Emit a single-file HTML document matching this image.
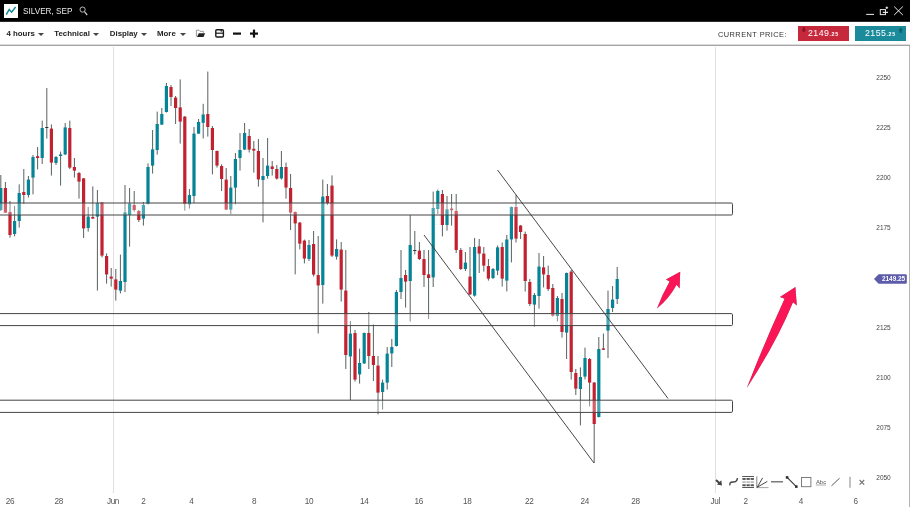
<!DOCTYPE html>
<html><head><meta charset="utf-8"><title>SILVER, SEP</title>
<style>
html,body{margin:0;padding:0;background:#fff;}
body{width:910px;height:507px;overflow:hidden;position:relative;font-family:"Liberation Sans",sans-serif;}
#top{position:absolute;left:0;top:0;width:910px;height:21px;background:#000;border-bottom:1px solid #2c2c2c;}
#logo{position:absolute;left:4px;top:4px;width:14px;height:14px;background:#fff;}
#title{position:absolute;left:23px;top:7px;font-size:8.2px;line-height:10px;color:#e8e8e8;letter-spacing:0px;white-space:nowrap;}
#bar{position:absolute;left:0;top:22px;width:910px;height:22px;background:#fff;border-bottom:1px solid #dcdcdc;box-shadow:0 1px 0 #a4a4a4;}
.mi{position:absolute;top:6.9px;font-size:7.85px;line-height:10px;font-weight:bold;color:#222;white-space:nowrap;}
.tri{position:absolute;top:10.5px;width:0;height:0;border-left:3px solid transparent;border-right:3px solid transparent;border-top:3.2px solid #444;}
#cp{position:absolute;left:718px;top:7.5px;font-size:7.4px;line-height:10px;color:#333;letter-spacing:0.45px;white-space:nowrap;}
.pb{position:absolute;top:4px;height:14.5px;width:51px;color:#fff;font-size:8.8px;line-height:14.5px;text-align:center;letter-spacing:0.45px;white-space:nowrap;}
.pb small{font-size:5.4px;font-weight:bold;letter-spacing:0.7px;}
#sell{left:798px;background:#c6283c;}
#buy{left:855px;background:#1b8b9b;}
#chart{position:absolute;left:0;top:0;}
.ax{font-size:6.5px;fill:#444;font-family:"Liberation Sans",sans-serif;}
.dx{font-size:8.2px;letter-spacing:-0.35px;fill:#555;font-family:"Liberation Sans",sans-serif;}
</style></head><body>
<svg id="chart" width="910" height="507" viewBox="0 0 910 507">
<!-- grid -->
<line x1="113.5" x2="113.5" y1="47" y2="493" stroke="#e0e0e0" stroke-width="1"/>
<line x1="715.5" x2="715.5" y1="47" y2="493" stroke="#e0e0e0" stroke-width="1"/>
<line x1="909.5" x2="909.5" y1="46" y2="507" stroke="#b4b4b4" stroke-width="1"/>
<!-- candles -->
<g shape-rendering="auto">
<line x1="0.8" x2="0.8" y1="175" y2="211" stroke="#596060" stroke-width="1"/>
<rect x="-0.8" y="188" width="3.2" height="22.0" fill="#048496"/>
<line x1="5.4" x2="5.4" y1="182" y2="213" stroke="#596060" stroke-width="1"/>
<rect x="3.8" y="188" width="3.2" height="24.6" fill="#c2212f"/>
<line x1="10.0" x2="10.0" y1="201" y2="237.6" stroke="#596060" stroke-width="1"/>
<rect x="8.4" y="212" width="3.2" height="23.0" fill="#c2212f"/>
<line x1="14.6" x2="14.6" y1="206" y2="236.4" stroke="#596060" stroke-width="1"/>
<rect x="13.0" y="221" width="3.2" height="13.0" fill="#048496"/>
<line x1="19.2" x2="19.2" y1="184.4" y2="227.6" stroke="#596060" stroke-width="1"/>
<rect x="17.6" y="193" width="3.2" height="28.0" fill="#048496"/>
<line x1="23.8" x2="23.8" y1="169" y2="204" stroke="#596060" stroke-width="1"/>
<rect x="22.2" y="192" width="3.2" height="3.0" fill="#c2212f"/>
<line x1="28.4" x2="28.4" y1="176" y2="197.6" stroke="#596060" stroke-width="1"/>
<rect x="26.8" y="179.6" width="3.2" height="15.4" fill="#048496"/>
<line x1="33.0" x2="33.0" y1="155" y2="194.4" stroke="#596060" stroke-width="1"/>
<rect x="31.4" y="157" width="3.2" height="20.6" fill="#048496"/>
<line x1="37.6" x2="37.6" y1="147" y2="169.4" stroke="#596060" stroke-width="1"/>
<rect x="36.0" y="156.2" width="3.2" height="1.8" fill="#c2212f"/>
<line x1="42.2" x2="42.2" y1="120.6" y2="164" stroke="#596060" stroke-width="1"/>
<rect x="40.6" y="128" width="3.2" height="30.0" fill="#048496"/>
<line x1="46.8" x2="46.8" y1="88" y2="138.6" stroke="#596060" stroke-width="1"/>
<rect x="45.2" y="127" width="3.2" height="1.0" fill="#333"/>
<line x1="51.4" x2="51.4" y1="124.4" y2="175.6" stroke="#596060" stroke-width="1"/>
<rect x="49.8" y="128.6" width="3.2" height="34.0" fill="#c2212f"/>
<line x1="56.0" x2="56.0" y1="156" y2="165" stroke="#596060" stroke-width="1"/>
<rect x="54.4" y="157" width="3.2" height="6.0" fill="#048496"/>
<line x1="60.6" x2="60.6" y1="151.6" y2="185.6" stroke="#596060" stroke-width="1"/>
<rect x="59.0" y="154.4" width="3.2" height="1.6" fill="#048496"/>
<line x1="65.2" x2="65.2" y1="123" y2="155" stroke="#596060" stroke-width="1"/>
<rect x="63.6" y="127.4" width="3.2" height="27.0" fill="#048496"/>
<line x1="69.8" x2="69.8" y1="120.6" y2="169" stroke="#596060" stroke-width="1"/>
<rect x="68.2" y="128" width="3.2" height="39.6" fill="#c2212f"/>
<line x1="74.4" x2="74.4" y1="158" y2="177.6" stroke="#596060" stroke-width="1"/>
<rect x="72.8" y="167" width="3.2" height="3.6" fill="#c2212f"/>
<line x1="79.0" x2="79.0" y1="172" y2="198.6" stroke="#596060" stroke-width="1"/>
<rect x="77.4" y="173" width="3.2" height="8.6" fill="#c2212f"/>
<line x1="83.6" x2="83.6" y1="178" y2="238" stroke="#596060" stroke-width="1"/>
<rect x="82.0" y="178.4" width="3.2" height="50.0" fill="#c2212f"/>
<line x1="88.2" x2="88.2" y1="207" y2="231.6" stroke="#596060" stroke-width="1"/>
<rect x="86.6" y="216.6" width="3.2" height="11.4" fill="#048496"/>
<line x1="92.8" x2="92.8" y1="186.4" y2="219" stroke="#596060" stroke-width="1"/>
<rect x="91.2" y="217" width="3.2" height="1.6" fill="#c2212f"/>
<line x1="97.4" x2="97.4" y1="190" y2="290.6" stroke="#596060" stroke-width="1"/>
<rect x="95.8" y="203" width="3.2" height="13.6" fill="#048496"/>
<line x1="102.0" x2="102.0" y1="202" y2="257.4" stroke="#596060" stroke-width="1"/>
<rect x="100.4" y="202.6" width="3.2" height="53.0" fill="#c2212f"/>
<line x1="106.6" x2="106.6" y1="253.4" y2="283.6" stroke="#596060" stroke-width="1"/>
<rect x="105.0" y="256" width="3.2" height="18.4" fill="#c2212f"/>
<line x1="111.2" x2="111.2" y1="268" y2="286.6" stroke="#596060" stroke-width="1"/>
<rect x="109.6" y="276.6" width="3.2" height="2.0" fill="#c2212f"/>
<line x1="115.8" x2="115.8" y1="269" y2="300.6" stroke="#596060" stroke-width="1"/>
<rect x="114.2" y="279.4" width="3.2" height="10.2" fill="#c2212f"/>
<line x1="120.4" x2="120.4" y1="254.6" y2="293.4" stroke="#596060" stroke-width="1"/>
<rect x="118.8" y="281" width="3.2" height="9.6" fill="#048496"/>
<line x1="125.0" x2="125.0" y1="185" y2="292" stroke="#596060" stroke-width="1"/>
<rect x="123.4" y="212.4" width="3.2" height="69.6" fill="#048496"/>
<line x1="129.6" x2="129.6" y1="188" y2="246.6" stroke="#596060" stroke-width="1"/>
<rect x="128.0" y="203.6" width="3.2" height="11.4" fill="#048496"/>
<line x1="134.2" x2="134.2" y1="191" y2="211.6" stroke="#596060" stroke-width="1"/>
<rect x="132.6" y="205" width="3.2" height="5.0" fill="#c2212f"/>
<line x1="138.8" x2="138.8" y1="210" y2="222" stroke="#596060" stroke-width="1"/>
<rect x="137.2" y="211" width="3.2" height="9.0" fill="#c2212f"/>
<line x1="143.4" x2="143.4" y1="202" y2="225.6" stroke="#596060" stroke-width="1"/>
<rect x="141.8" y="205" width="3.2" height="13.6" fill="#048496"/>
<line x1="148.0" x2="148.0" y1="163.4" y2="204.5" stroke="#596060" stroke-width="1"/>
<rect x="146.4" y="167" width="3.2" height="37.0" fill="#048496"/>
<line x1="152.6" x2="152.6" y1="130" y2="173.6" stroke="#596060" stroke-width="1"/>
<rect x="151.0" y="149.4" width="3.2" height="16.2" fill="#048496"/>
<line x1="157.2" x2="157.2" y1="111.6" y2="154.6" stroke="#596060" stroke-width="1"/>
<rect x="155.6" y="124" width="3.2" height="26.0" fill="#048496"/>
<line x1="161.8" x2="161.8" y1="108" y2="125" stroke="#596060" stroke-width="1"/>
<rect x="160.2" y="114" width="3.2" height="10.6" fill="#048496"/>
<line x1="166.4" x2="166.4" y1="83" y2="112.5" stroke="#596060" stroke-width="1"/>
<rect x="164.8" y="86" width="3.2" height="26.0" fill="#048496"/>
<line x1="171.0" x2="171.0" y1="85" y2="106" stroke="#596060" stroke-width="1"/>
<rect x="169.4" y="87" width="3.2" height="10.0" fill="#c2212f"/>
<line x1="175.6" x2="175.6" y1="96" y2="124" stroke="#596060" stroke-width="1"/>
<rect x="174.0" y="97.6" width="3.2" height="10.4" fill="#c2212f"/>
<line x1="180.2" x2="180.2" y1="79.4" y2="143.6" stroke="#596060" stroke-width="1"/>
<rect x="178.6" y="107.4" width="3.2" height="14.2" fill="#c2212f"/>
<line x1="184.8" x2="184.8" y1="116" y2="210.6" stroke="#596060" stroke-width="1"/>
<rect x="183.2" y="116.6" width="3.2" height="87.4" fill="#c2212f"/>
<line x1="189.4" x2="189.4" y1="189" y2="208.6" stroke="#596060" stroke-width="1"/>
<rect x="187.8" y="195" width="3.2" height="9.4" fill="#048496"/>
<line x1="194.0" x2="194.0" y1="127" y2="203" stroke="#596060" stroke-width="1"/>
<rect x="192.4" y="133.6" width="3.2" height="62.4" fill="#048496"/>
<line x1="198.6" x2="198.6" y1="119" y2="134" stroke="#596060" stroke-width="1"/>
<rect x="197.0" y="122" width="3.2" height="11.6" fill="#048496"/>
<line x1="203.2" x2="203.2" y1="103.8" y2="138.5" stroke="#596060" stroke-width="1"/>
<rect x="201.6" y="114.5" width="3.2" height="8.3" fill="#048496"/>
<line x1="207.8" x2="207.8" y1="71.6" y2="136.6" stroke="#596060" stroke-width="1"/>
<rect x="206.2" y="114" width="3.2" height="13.0" fill="#c2212f"/>
<line x1="212.4" x2="212.4" y1="126" y2="174.4" stroke="#596060" stroke-width="1"/>
<rect x="210.8" y="128" width="3.2" height="22.0" fill="#c2212f"/>
<line x1="217.0" x2="217.0" y1="150.5" y2="167.6" stroke="#596060" stroke-width="1"/>
<rect x="215.4" y="151" width="3.2" height="14.6" fill="#c2212f"/>
<line x1="221.6" x2="221.6" y1="164.4" y2="191" stroke="#596060" stroke-width="1"/>
<rect x="220.0" y="166" width="3.2" height="13.0" fill="#c2212f"/>
<line x1="226.2" x2="226.2" y1="168" y2="210" stroke="#596060" stroke-width="1"/>
<rect x="224.6" y="179.6" width="3.2" height="30.0" fill="#c2212f"/>
<line x1="230.8" x2="230.8" y1="176" y2="214" stroke="#596060" stroke-width="1"/>
<rect x="229.2" y="187.6" width="3.2" height="22.0" fill="#048496"/>
<line x1="235.4" x2="235.4" y1="153" y2="204.4" stroke="#596060" stroke-width="1"/>
<rect x="233.8" y="159" width="3.2" height="28.6" fill="#048496"/>
<line x1="240.0" x2="240.0" y1="133" y2="170.6" stroke="#596060" stroke-width="1"/>
<rect x="238.4" y="150" width="3.2" height="8.0" fill="#048496"/>
<line x1="244.6" x2="244.6" y1="123" y2="150" stroke="#596060" stroke-width="1"/>
<rect x="243.0" y="133" width="3.2" height="16.6" fill="#048496"/>
<line x1="249.2" x2="249.2" y1="129" y2="152.5" stroke="#596060" stroke-width="1"/>
<rect x="247.6" y="136" width="3.2" height="13.6" fill="#c2212f"/>
<line x1="253.8" x2="253.8" y1="141" y2="172.6" stroke="#596060" stroke-width="1"/>
<rect x="252.2" y="148.8" width="3.2" height="1.8" fill="#c2212f"/>
<line x1="258.4" x2="258.4" y1="139" y2="186.6" stroke="#596060" stroke-width="1"/>
<rect x="256.8" y="151" width="3.2" height="28.4" fill="#c2212f"/>
<line x1="263.0" x2="263.0" y1="158" y2="222.4" stroke="#596060" stroke-width="1"/>
<rect x="261.4" y="176" width="3.2" height="4.0" fill="#048496"/>
<line x1="267.6" x2="267.6" y1="138" y2="178.6" stroke="#596060" stroke-width="1"/>
<rect x="266.0" y="165.6" width="3.2" height="10.4" fill="#048496"/>
<line x1="272.2" x2="272.2" y1="161" y2="175.6" stroke="#596060" stroke-width="1"/>
<rect x="270.6" y="166.4" width="3.2" height="2.6" fill="#c2212f"/>
<line x1="276.8" x2="276.8" y1="165" y2="179.6" stroke="#596060" stroke-width="1"/>
<rect x="275.2" y="169" width="3.2" height="9.6" fill="#c2212f"/>
<line x1="281.4" x2="281.4" y1="151" y2="179.6" stroke="#596060" stroke-width="1"/>
<rect x="279.8" y="167" width="3.2" height="11.4" fill="#048496"/>
<line x1="286.0" x2="286.0" y1="162.6" y2="198.6" stroke="#596060" stroke-width="1"/>
<rect x="284.4" y="167" width="3.2" height="20.6" fill="#c2212f"/>
<line x1="290.6" x2="290.6" y1="174" y2="230" stroke="#596060" stroke-width="1"/>
<rect x="289.0" y="188" width="3.2" height="24.6" fill="#c2212f"/>
<line x1="295.2" x2="295.2" y1="211.5" y2="274.4" stroke="#596060" stroke-width="1"/>
<rect x="293.6" y="212" width="3.2" height="11.4" fill="#c2212f"/>
<line x1="299.8" x2="299.8" y1="222" y2="249.4" stroke="#596060" stroke-width="1"/>
<rect x="298.2" y="222.6" width="3.2" height="21.0" fill="#c2212f"/>
<line x1="304.4" x2="304.4" y1="239.6" y2="263.4" stroke="#596060" stroke-width="1"/>
<rect x="302.8" y="240.6" width="3.2" height="18.0" fill="#c2212f"/>
<line x1="309.0" x2="309.0" y1="240" y2="261" stroke="#596060" stroke-width="1"/>
<rect x="307.4" y="245" width="3.2" height="14.0" fill="#048496"/>
<line x1="313.6" x2="313.6" y1="231" y2="276.6" stroke="#596060" stroke-width="1"/>
<rect x="312.0" y="244" width="3.2" height="30.6" fill="#c2212f"/>
<line x1="318.2" x2="318.2" y1="236" y2="333.5" stroke="#596060" stroke-width="1"/>
<rect x="316.6" y="275" width="3.2" height="10.4" fill="#c2212f"/>
<line x1="322.8" x2="322.8" y1="179.6" y2="303.6" stroke="#596060" stroke-width="1"/>
<rect x="321.2" y="196.6" width="3.2" height="88.4" fill="#048496"/>
<line x1="327.4" x2="327.4" y1="184" y2="205" stroke="#596060" stroke-width="1"/>
<rect x="325.8" y="196" width="3.2" height="7.0" fill="#c2212f"/>
<line x1="332.0" x2="332.0" y1="175.4" y2="257" stroke="#596060" stroke-width="1"/>
<rect x="330.4" y="185.6" width="3.2" height="70.0" fill="#c2212f"/>
<line x1="336.6" x2="336.6" y1="239.4" y2="259.6" stroke="#596060" stroke-width="1"/>
<rect x="335.0" y="249" width="3.2" height="7.6" fill="#048496"/>
<line x1="341.2" x2="341.2" y1="242" y2="301.6" stroke="#596060" stroke-width="1"/>
<rect x="339.6" y="249.6" width="3.2" height="40.0" fill="#c2212f"/>
<line x1="345.8" x2="345.8" y1="250" y2="369" stroke="#596060" stroke-width="1"/>
<rect x="344.2" y="290.6" width="3.2" height="64.4" fill="#c2212f"/>
<line x1="350.4" x2="350.4" y1="321" y2="400" stroke="#596060" stroke-width="1"/>
<rect x="348.8" y="333.6" width="3.2" height="22.8" fill="#048496"/>
<line x1="355.0" x2="355.0" y1="330" y2="381.6" stroke="#596060" stroke-width="1"/>
<rect x="353.4" y="333" width="3.2" height="46.6" fill="#c2212f"/>
<line x1="359.6" x2="359.6" y1="348.6" y2="383.6" stroke="#596060" stroke-width="1"/>
<rect x="358.0" y="363" width="3.2" height="11.4" fill="#048496"/>
<line x1="364.2" x2="364.2" y1="332.5" y2="364" stroke="#596060" stroke-width="1"/>
<rect x="362.6" y="333" width="3.2" height="30.4" fill="#048496"/>
<line x1="368.8" x2="368.8" y1="312" y2="369" stroke="#596060" stroke-width="1"/>
<rect x="367.2" y="333" width="3.2" height="23.0" fill="#c2212f"/>
<line x1="373.4" x2="373.4" y1="324.4" y2="381" stroke="#596060" stroke-width="1"/>
<rect x="371.8" y="356" width="3.2" height="9.0" fill="#c2212f"/>
<line x1="378.0" x2="378.0" y1="356" y2="414.4" stroke="#596060" stroke-width="1"/>
<rect x="376.4" y="365.6" width="3.2" height="27.0" fill="#c2212f"/>
<line x1="382.6" x2="382.6" y1="379.6" y2="409.6" stroke="#596060" stroke-width="1"/>
<rect x="381.0" y="382.6" width="3.2" height="9.4" fill="#048496"/>
<line x1="387.2" x2="387.2" y1="347" y2="389.6" stroke="#596060" stroke-width="1"/>
<rect x="385.6" y="353.6" width="3.2" height="29.0" fill="#048496"/>
<line x1="391.8" x2="391.8" y1="339" y2="367" stroke="#596060" stroke-width="1"/>
<rect x="390.2" y="347" width="3.2" height="6.4" fill="#048496"/>
<line x1="396.4" x2="396.4" y1="290" y2="346.5" stroke="#596060" stroke-width="1"/>
<rect x="394.8" y="292" width="3.2" height="54.0" fill="#048496"/>
<line x1="401.0" x2="401.0" y1="250" y2="299" stroke="#596060" stroke-width="1"/>
<rect x="399.4" y="278" width="3.2" height="14.0" fill="#048496"/>
<line x1="405.6" x2="405.6" y1="270" y2="307.6" stroke="#596060" stroke-width="1"/>
<rect x="404.0" y="275" width="3.2" height="6.6" fill="#c2212f"/>
<line x1="410.2" x2="410.2" y1="215" y2="321.5" stroke="#596060" stroke-width="1"/>
<rect x="408.6" y="245" width="3.2" height="36.0" fill="#048496"/>
<line x1="414.8" x2="414.8" y1="231" y2="254.4" stroke="#596060" stroke-width="1"/>
<rect x="413.2" y="250" width="3.2" height="1.0" fill="#333"/>
<line x1="419.4" x2="419.4" y1="242" y2="260" stroke="#596060" stroke-width="1"/>
<rect x="417.8" y="250.6" width="3.2" height="8.4" fill="#c2212f"/>
<line x1="424.0" x2="424.0" y1="250" y2="287" stroke="#596060" stroke-width="1"/>
<rect x="422.4" y="259" width="3.2" height="16.0" fill="#c2212f"/>
<line x1="428.6" x2="428.6" y1="250" y2="319" stroke="#596060" stroke-width="1"/>
<rect x="427.0" y="274.4" width="3.2" height="3.6" fill="#c2212f"/>
<line x1="433.2" x2="433.2" y1="191.6" y2="287" stroke="#596060" stroke-width="1"/>
<rect x="431.6" y="208" width="3.2" height="69.4" fill="#048496"/>
<line x1="437.8" x2="437.8" y1="189.6" y2="214" stroke="#596060" stroke-width="1"/>
<rect x="436.2" y="191" width="3.2" height="18.0" fill="#048496"/>
<line x1="442.4" x2="442.4" y1="190" y2="236.4" stroke="#596060" stroke-width="1"/>
<rect x="440.8" y="194" width="3.2" height="31.0" fill="#c2212f"/>
<line x1="447.0" x2="447.0" y1="196" y2="230.6" stroke="#596060" stroke-width="1"/>
<rect x="445.4" y="209.4" width="3.2" height="15.6" fill="#048496"/>
<line x1="451.6" x2="451.6" y1="194" y2="225.6" stroke="#596060" stroke-width="1"/>
<rect x="450.0" y="208.6" width="3.2" height="1.6" fill="#c2212f"/>
<line x1="456.2" x2="456.2" y1="194" y2="253" stroke="#596060" stroke-width="1"/>
<rect x="454.6" y="211" width="3.2" height="39.0" fill="#c2212f"/>
<line x1="460.8" x2="460.8" y1="248" y2="270" stroke="#596060" stroke-width="1"/>
<rect x="459.2" y="250" width="3.2" height="19.0" fill="#c2212f"/>
<line x1="465.4" x2="465.4" y1="252" y2="271" stroke="#596060" stroke-width="1"/>
<rect x="463.8" y="262.6" width="3.2" height="6.4" fill="#048496"/>
<line x1="470.0" x2="470.0" y1="247" y2="295" stroke="#596060" stroke-width="1"/>
<rect x="468.4" y="276.6" width="3.2" height="17.8" fill="#c2212f"/>
<line x1="474.6" x2="474.6" y1="238" y2="296.6" stroke="#596060" stroke-width="1"/>
<rect x="473.0" y="247" width="3.2" height="48.6" fill="#048496"/>
<line x1="479.2" x2="479.2" y1="239" y2="273" stroke="#596060" stroke-width="1"/>
<rect x="477.6" y="246.4" width="3.2" height="7.2" fill="#c2212f"/>
<line x1="483.8" x2="483.8" y1="247" y2="271.6" stroke="#596060" stroke-width="1"/>
<rect x="482.2" y="253.6" width="3.2" height="12.0" fill="#c2212f"/>
<line x1="488.4" x2="488.4" y1="259" y2="280.6" stroke="#596060" stroke-width="1"/>
<rect x="486.8" y="266" width="3.2" height="12.6" fill="#c2212f"/>
<line x1="493.0" x2="493.0" y1="268" y2="279" stroke="#596060" stroke-width="1"/>
<rect x="491.4" y="269" width="3.2" height="9.0" fill="#048496"/>
<line x1="497.6" x2="497.6" y1="245.5" y2="275" stroke="#596060" stroke-width="1"/>
<rect x="496.0" y="247.4" width="3.2" height="23.2" fill="#048496"/>
<line x1="502.2" x2="502.2" y1="242.5" y2="286.6" stroke="#596060" stroke-width="1"/>
<rect x="500.6" y="247" width="3.2" height="31.6" fill="#c2212f"/>
<line x1="506.8" x2="506.8" y1="235" y2="291.4" stroke="#596060" stroke-width="1"/>
<rect x="505.2" y="239.5" width="3.2" height="41.1" fill="#048496"/>
<line x1="511.4" x2="511.4" y1="206.5" y2="262.4" stroke="#596060" stroke-width="1"/>
<rect x="509.8" y="207" width="3.2" height="32.4" fill="#048496"/>
<line x1="516.0" x2="516.0" y1="195" y2="242.5" stroke="#596060" stroke-width="1"/>
<rect x="514.4" y="207" width="3.2" height="31.6" fill="#c2212f"/>
<line x1="520.6" x2="520.6" y1="225" y2="239" stroke="#596060" stroke-width="1"/>
<rect x="519.0" y="225.6" width="3.2" height="6.4" fill="#c2212f"/>
<line x1="525.2" x2="525.2" y1="231.6" y2="291.6" stroke="#596060" stroke-width="1"/>
<rect x="523.6" y="234" width="3.2" height="47.0" fill="#c2212f"/>
<line x1="529.8" x2="529.8" y1="279" y2="306" stroke="#596060" stroke-width="1"/>
<rect x="528.2" y="282" width="3.2" height="22.0" fill="#c2212f"/>
<line x1="534.4" x2="534.4" y1="293" y2="326.6" stroke="#596060" stroke-width="1"/>
<rect x="532.8" y="295" width="3.2" height="9.6" fill="#048496"/>
<line x1="539.0" x2="539.0" y1="253" y2="308.6" stroke="#596060" stroke-width="1"/>
<rect x="537.4" y="266.6" width="3.2" height="29.4" fill="#048496"/>
<line x1="543.6" x2="543.6" y1="256" y2="287.4" stroke="#596060" stroke-width="1"/>
<rect x="542.0" y="267.4" width="3.2" height="7.0" fill="#c2212f"/>
<line x1="548.2" x2="548.2" y1="265.6" y2="291" stroke="#596060" stroke-width="1"/>
<rect x="546.6" y="275" width="3.2" height="14.0" fill="#c2212f"/>
<line x1="552.8" x2="552.8" y1="284" y2="316.6" stroke="#596060" stroke-width="1"/>
<rect x="551.2" y="288" width="3.2" height="27.6" fill="#c2212f"/>
<line x1="557.4" x2="557.4" y1="296" y2="321.4" stroke="#596060" stroke-width="1"/>
<rect x="555.8" y="298" width="3.2" height="18.0" fill="#048496"/>
<line x1="562.0" x2="562.0" y1="293" y2="337.6" stroke="#596060" stroke-width="1"/>
<rect x="560.4" y="299" width="3.2" height="33.0" fill="#c2212f"/>
<line x1="566.6" x2="566.6" y1="272.5" y2="359" stroke="#596060" stroke-width="1"/>
<rect x="565.0" y="273" width="3.2" height="59.6" fill="#048496"/>
<line x1="571.2" x2="571.2" y1="270" y2="379.6" stroke="#596060" stroke-width="1"/>
<rect x="569.6" y="271.6" width="3.2" height="100.4" fill="#c2212f"/>
<line x1="575.8" x2="575.8" y1="369" y2="395" stroke="#596060" stroke-width="1"/>
<rect x="574.2" y="373" width="3.2" height="15.6" fill="#c2212f"/>
<line x1="580.4" x2="580.4" y1="367.4" y2="425.4" stroke="#596060" stroke-width="1"/>
<rect x="578.8" y="377" width="3.2" height="12.0" fill="#048496"/>
<line x1="585.0" x2="585.0" y1="347.6" y2="379.4" stroke="#596060" stroke-width="1"/>
<rect x="583.4" y="358" width="3.2" height="18.6" fill="#048496"/>
<line x1="589.6" x2="589.6" y1="358" y2="406.4" stroke="#596060" stroke-width="1"/>
<rect x="588.0" y="359" width="3.2" height="23.6" fill="#c2212f"/>
<line x1="594.2" x2="594.2" y1="382" y2="463" stroke="#596060" stroke-width="1"/>
<rect x="592.6" y="382.6" width="3.2" height="41.4" fill="#c2212f"/>
<line x1="598.8" x2="598.8" y1="337" y2="417.5" stroke="#596060" stroke-width="1"/>
<rect x="597.2" y="349" width="3.2" height="68.0" fill="#048496"/>
<line x1="603.4" x2="603.4" y1="333.6" y2="350" stroke="#596060" stroke-width="1"/>
<rect x="601.8" y="348.4" width="3.2" height="1.4" fill="#c2212f"/>
<line x1="608.0" x2="608.0" y1="290.6" y2="358" stroke="#596060" stroke-width="1"/>
<rect x="606.4" y="309" width="3.2" height="21.6" fill="#048496"/>
<line x1="612.6" x2="612.6" y1="286" y2="312" stroke="#596060" stroke-width="1"/>
<rect x="611.0" y="299.6" width="3.2" height="8.4" fill="#048496"/>
<line x1="617.2" x2="617.2" y1="267" y2="304" stroke="#596060" stroke-width="1"/>
<rect x="615.6" y="279" width="3.2" height="20.0" fill="#048496"/>
</g>
<!-- zones -->
<g fill="rgba(255,255,255,0.28)" stroke="#444" stroke-width="1">
<rect x="-5" y="203" width="737.5" height="12" rx="1.2"/>
<rect x="-5" y="313.6" width="737.5" height="12" rx="1.2"/>
<rect x="-5" y="400.2" width="737.5" height="12.2" rx="1.2"/>
</g>
<!-- channel -->
<g stroke="#333" stroke-width="0.9" fill="none">
<line x1="497.5" y1="170" x2="668" y2="398.5"/>
<line x1="424" y1="235" x2="594" y2="463"/>
</g>
<!-- arrows -->
<g fill="#fa1656" style="filter:drop-shadow(0.6px 0.6px 0.5px rgba(0,0,0,0.45))">
<path d="M657,308.5 Q662.2,294.45 669.6,281.4 L666,279.4 L680.2,271.8 L679.6,288.4 L676.6,284.8 Q669.1,298.6 657,308.5 Z"/>
<path d="M746.8,388 Q764.1,343.6 784.6,298.8 L780,297 L795.4,287 L796.8,305.6 L793,302.2 Q776.7,341.9 746.8,388 Z"/>
</g>
<!-- y axis -->
<g class="ax" text-anchor="middle">
<text x="883.5" y="79.6">2250</text>
<text x="883.5" y="129.6">2225</text>
<text x="883.5" y="179.6">2200</text>
<text x="883.5" y="229.6">2175</text>
<text x="883.5" y="329.6">2125</text>
<text x="883.5" y="379.6">2100</text>
<text x="883.5" y="429.6">2075</text>
<text x="883.5" y="479.6">2050</text>
</g>
<!-- price tag -->
<path d="M874,279 L878.6,274.2 L905.6,274.2 Q906.8,274.2 906.8,275.4 L906.8,282.6 Q906.8,283.8 905.6,283.8 L878.6,283.8 Z" fill="#5c5cab"/>
<text x="905.2" y="281.4" text-anchor="end" style="font-size:6.45px;font-weight:bold;fill:#fff;font-family:'Liberation Sans',sans-serif">2149.25</text>
<!-- x axis -->
<g class="dx" text-anchor="middle">
<text x="10" y="504">26</text>
<text x="58.7" y="504">28</text>
<text x="113" y="504">Jun</text>
<text x="143.3" y="504">2</text>
<text x="191.3" y="504">4</text>
<text x="254" y="504">8</text>
<text x="309" y="504">10</text>
<text x="364.3" y="504">14</text>
<text x="418.7" y="504">16</text>
<text x="467.3" y="504">18</text>
<text x="529.3" y="504">22</text>
<text x="584.7" y="504">24</text>
<text x="635.4" y="504">28</text>
<text x="715.3" y="504">Jul</text>
<text x="745.7" y="504">2</text>
<text x="800.8" y="504">4</text>
<text x="855.6" y="504">6</text>
</g>
<!-- drawing tools -->
<g id="tools" stroke="#333" fill="none" stroke-width="1">
<!-- arrow -->
<path d="M716,480 L719.6,483.3" stroke="#444" stroke-width="2"/>
<polygon points="722,485.5 716.9,484.6 721.3,480.2" fill="#444" stroke="none"/>
<!-- curve -->
<path d="M730,485.4 C729.4,483.2 730.4,482 732.4,482 S735.6,482.4 736.6,480.6 S737.4,478.8 737.4,478" stroke="#444" stroke-width="1.4"/>
<!-- grid -->
<g stroke="none">
<rect x="742.2" y="476" width="11.8" height="0.9" fill="#444"/><rect x="742.2" y="487.1" width="11.8" height="0.9" fill="#444"/>
<rect x="742.4" y="478" width="3.3" height="1.9" fill="#555"/><rect x="746.5" y="478" width="3.3" height="1.9" fill="#555"/><rect x="750.6" y="478" width="3.3" height="1.9" fill="#555"/>
<rect x="742.4" y="481.2" width="3.3" height="1.8" fill="#bbb"/><rect x="746.5" y="481.2" width="3.3" height="1.8" fill="#bbb"/><rect x="750.6" y="481.2" width="3.3" height="1.8" fill="#bbb"/>
<rect x="742.4" y="484.3" width="3.3" height="1.9" fill="#555"/><rect x="746.5" y="484.3" width="3.3" height="1.9" fill="#555"/><rect x="750.6" y="484.3" width="3.3" height="1.9" fill="#555"/>
</g>
<!-- fan -->
<g stroke-width="0.9">
<line x1="756.8" x2="756.8" y1="476.4" y2="487.8" stroke="#777"/><line x1="756.8" x2="768.5" y1="487.6" y2="487.6" stroke="#999"/>
<line x1="757.2" x2="762.6" y1="487.3" y2="477.9" stroke="#333"/><line x1="757.2" x2="767.3" y1="487.3" y2="481.4" stroke="#333"/>
</g>
<!-- hline -->
<line x1="771" x2="783" y1="481.8" y2="481.8" stroke="#666" stroke-width="1.3"/>
<!-- diag with dots -->
<line x1="787.1" x2="796.3" y1="477.4" y2="486.6" stroke-width="1.1"/>
<rect x="785.8" y="476.1" width="2.6" height="2.6" fill="#333" stroke="none"/><rect x="795" y="485.3" width="2.6" height="2.6" fill="#333" stroke="none"/>
<!-- square -->
<rect x="801.5" y="477.5" width="9.4" height="9.2" stroke="#707070" stroke-width="0.9"/>
<!-- slash -->
<line x1="831.5" x2="839.6" y1="485.8" y2="478.2" stroke="#444" stroke-width="0.9"/>
<!-- bar -->
<line x1="850" x2="850" y1="476.8" y2="487.8" stroke="#999" stroke-width="1.2"/>
<!-- x -->
<path d="M859.6,480 L864.2,484.6 M864.2,480 L859.6,484.6" stroke="#777" stroke-width="1.2"/>
</g>
<text x="821" y="484" text-anchor="middle" style="font-size:5.9px;fill:#555;font-family:'Liberation Sans',sans-serif">Abc</text>
<line x1="815.8" x2="826" y1="485" y2="485" stroke="#555" stroke-width="0.5"/>
</svg>
<div id="top">
<div id="logo"><svg width="14" height="14" viewBox="0 0 14 14"><path d="M2.2,10.6 L5.2,5.6 L7.6,8.2 L11.6,3" fill="none" stroke="#128a98" stroke-width="1.5" stroke-linejoin="miter"/></svg></div>
<div id="title">SILVER, SEP</div>
<svg style="position:absolute;left:78px;top:4px" width="12" height="14" viewBox="0 0 12 14"><circle cx="4.6" cy="5.6" r="2.6" fill="none" stroke="#ccc" stroke-width="0.9"/><line x1="6.5" y1="7.7" x2="9.2" y2="11" stroke="#ccc" stroke-width="1.2"/></svg>
<svg style="position:absolute;left:862px;top:3px" width="46" height="16" viewBox="0 0 46 16">
<line x1="4.2" x2="12" y1="11.4" y2="11.4" stroke="#eee" stroke-width="1"/>
<rect x="18.3" y="6.6" width="5.2" height="5" fill="none" stroke="#e4e4e4" stroke-width="1"/>
<path d="M20.8,9.4 H26 M24.8,3.4 v2.6 M23.5,4.7 h2.6" stroke="#e4e4e4" stroke-width="1.1" fill="none"/>
<path d="M32.2,3.6 L40.8,12 M40.8,3.6 L32.2,12" stroke="#eee" stroke-width="1"/>
</svg>
</div>
<div id="bar">
<div class="mi" style="left:6.5px">4 hours</div><div class="tri" style="left:38.2px"></div>
<div class="mi" style="left:54.3px">Technical</div><div class="tri" style="left:93px"></div>
<div class="mi" style="left:109.8px">Display</div><div class="tri" style="left:140.5px"></div>
<div class="mi" style="left:157px">More</div><div class="tri" style="left:179.5px"></div>
<svg style="position:absolute;left:194px;top:6px" width="70" height="12" viewBox="0 0 70 12">
<!-- folder -->
<path d="M2.4,8.6 V2.2 H5 L6,3.3 H9.4 V4.8" fill="none" stroke="#8a8a8a" stroke-width="0.9"/>
<polygon points="3,9.1 9.5,9.1 11.1,5.3 4.7,5.3" fill="#222"/>
<!-- save -->
<rect x="21.8" y="1.8" width="7.6" height="7.2" rx="1" fill="#fff" stroke="#1a1a1a" stroke-width="1.4"/>
<line x1="21.8" x2="29.4" y1="5.2" y2="5.2" stroke="#1a1a1a" stroke-width="1.2"/>
<rect x="26.6" y="1.6" width="1.3" height="2" fill="#1a1a1a"/>
<!-- minus -->
<rect x="39" y="4.5" width="8" height="2.2" fill="#111"/>
<!-- plus -->
<rect x="56" y="4.5" width="8" height="2.2" fill="#111"/>
<rect x="58.9" y="1.6" width="2.2" height="8" fill="#111"/>
</svg>
<div id="cp">CURRENT PRICE:</div>
<div class="pb" id="sell">2149<small>.25</small></div>
<div class="pb" id="buy">2155<small>.25</small></div>
<svg style="position:absolute;left:798px;top:4px" width="110" height="15" viewBox="0 0 110 15">
<path d="M4.7,1.3 h2.2 v2.4 h1.3 l-2.4,2.9 l-2.4,-2.9 h1.3 Z" fill="#8a1424"/>
<path d="M101.6,6.7 h2.2 v-2.4 h1.3 l-2.4,-2.9 l-2.4,2.9 h1.3 Z" fill="#0d5f6b"/>
</svg>
</div>
</body></html>
